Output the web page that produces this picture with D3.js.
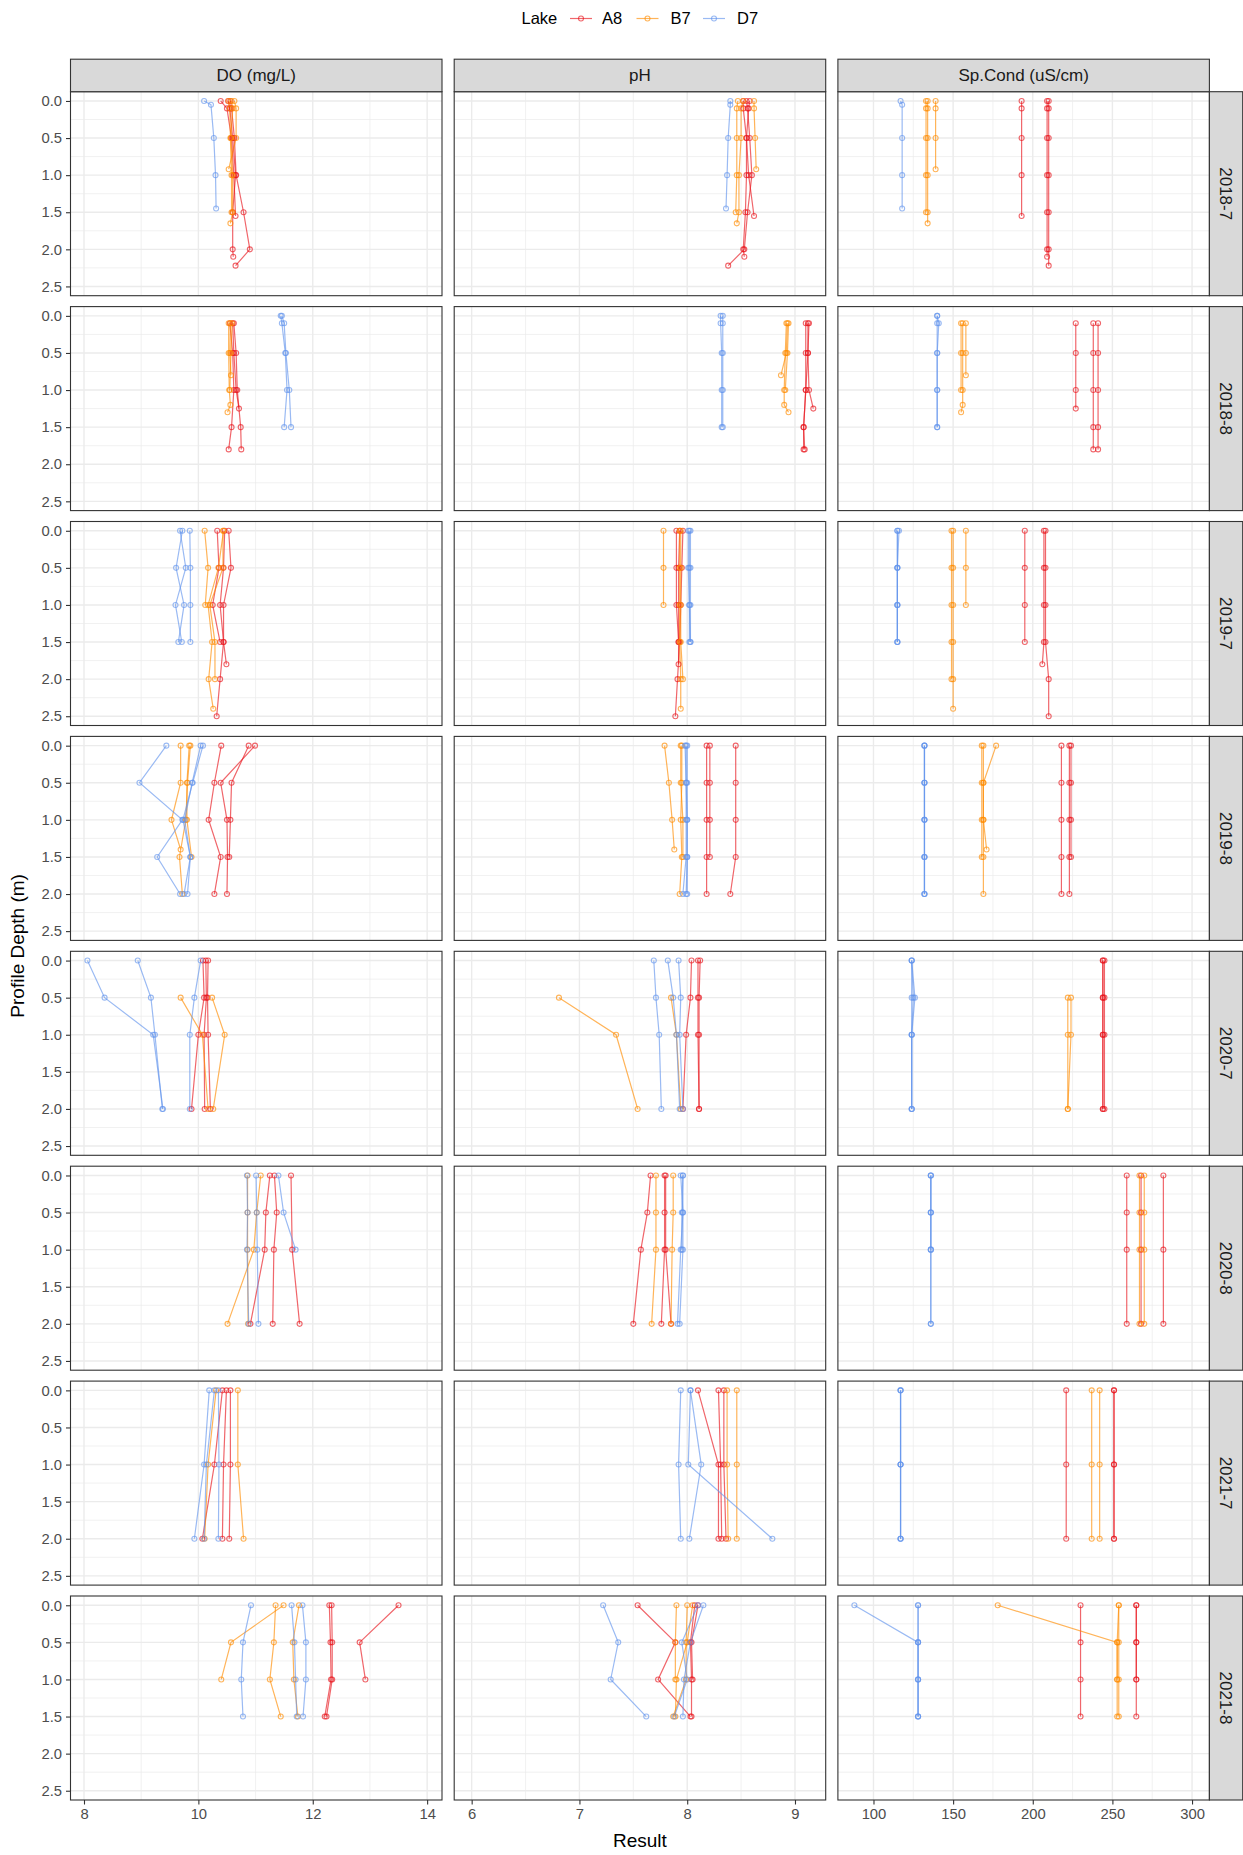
<!DOCTYPE html>
<html>
<head>
<meta charset="utf-8">
<script src="https://cdn.jsdelivr.net/npm/d3@7"></script>
<style>
  body { margin: 0; background: #fff; }
  text { font-family: "Liberation Sans", Arial, sans-serif; }
</style>
</head>
<body>
<div id="chart-container"></div>
<script>
// facet labels and legend
const months = ["2018-7", "2018-8", "2019-7", "2019-8", "2020-7", "2020-8", "2021-7", "2021-8"]
const lakes = ["A8", "B7", "D7"]
const lakeColors = ["#E8141C", "#FF8C00", "#6495ED"]
const paramKeys = ["DO", "pH", "cond"]
const paramLabels = ["DO (mg/L)", "pH", "Sp.Cond (uS/cm)"]

// axis ticks
const depthTicks = [0, 0.5, 1, 1.5, 2, 2.5]
const doTicks = [8, 10, 12, 14]
const phTicks = [6, 7, 8, 9]
const condTicks = [100, 150, 200, 250, 300]

// profiles (one entry per sampling site)
const m2018_7 = [
  { lake: "A8", depth: [0, 0.1, 0.5, 1, 1.55], DO: [10.39, 10.5, 10.58, 10.62, 10.65], pH: [8.52, 8.52, 8.55, 8.57, 8.62], cond: [193, 193, 193, 193, 193] },
  { lake: "A8", depth: [0, 0.1, 0.5, 1, 1.5, 2, 2.1], DO: [10.52, 10.55, 10.6, 10.65, 10.6, 10.6, 10.61], pH: [8.58, 8.57, 8.55, 8.55, 8.54, 8.52, 8.53], cond: [209, 209, 209, 209, 209, 209, 209] },
  { lake: "A8", depth: [0, 0.1, 0.5, 1, 1.5, 2, 2.22], DO: [10.56, 10.58, 10.63, 10.66, 10.79, 10.9, 10.65], pH: [8.55, 8.56, 8.58, 8.6, 8.56, 8.53, 8.38], cond: [210, 210, 210, 210, 210, 210, 210] },
  { lake: "B7", depth: [0, 0.1, 0.5, 1, 1.5], DO: [10.53, 10.55, 10.56, 10.58, 10.58], pH: [8.47, 8.46, 8.46, 8.46, 8.45], cond: [133, 133, 133, 133, 133] },
  { lake: "B7", depth: [0, 0.1, 0.5, 1, 1.5, 1.65], DO: [10.58, 10.6, 10.57, 10.6, 10.6, 10.56], pH: [8.52, 8.5, 8.5, 8.48, 8.48, 8.46], cond: [134, 134, 134, 134, 134, 134] },
  { lake: "B7", depth: [0, 0.1, 0.5, 0.92], DO: [10.63, 10.66, 10.66, 10.53], pH: [8.62, 8.62, 8.63, 8.64], cond: [139, 139, 139, 139] },
  { lake: "D7", depth: [0, 0.05, 0.5, 1, 1.45], DO: [10.1, 10.22, 10.27, 10.3, 10.31], pH: [8.4, 8.4, 8.38, 8.37, 8.36], cond: [117, 118, 118, 118, 118] }
]

const m2018_8 = [
  { lake: "A8", depth: [0.1, 0.5, 1, 1.25], DO: [10.6, 10.62, 10.66, 10.71], pH: [9.12, 9.12, 9.13, 9.17], cond: [227, 227, 227, 227] },
  { lake: "A8", depth: [0.1, 0.5, 1, 1.5, 1.8], DO: [10.55, 10.6, 10.62, 10.58, 10.53], pH: [9.1, 9.1, 9.1, 9.08, 9.08], cond: [238, 238, 238, 238, 238] },
  { lake: "A8", depth: [0.1, 0.5, 1, 1.5, 1.8], DO: [10.62, 10.66, 10.68, 10.74, 10.75], pH: [9.13, 9.12, 9.1, 9.08, 9.09], cond: [241, 241, 241, 241, 241] },
  { lake: "B7", depth: [0.1, 0.5, 1, 1.2, 1.3], DO: [10.53, 10.53, 10.54, 10.56, 10.51], pH: [8.92, 8.91, 8.9, 8.9, 8.94], cond: [156, 156, 156, 156, 155] },
  { lake: "B7", depth: [0.1, 0.5, 0.8], DO: [10.56, 10.55, 10.57], pH: [8.93, 8.92, 8.87], cond: [158, 158, 158] },
  { lake: "B7", depth: [0.1, 0.5, 1], DO: [10.59, 10.57, 10.55], pH: [8.94, 8.93, 8.91], cond: [155, 155, 155] },
  { lake: "D7", depth: [0, 0.1, 0.5, 1, 1.5], DO: [11.44, 11.46, 11.52, 11.55, 11.5], pH: [8.31, 8.31, 8.32, 8.32, 8.32], cond: [140, 140, 140, 140, 140] },
  { lake: "D7", depth: [0, 0.1, 0.5, 1, 1.5], DO: [11.46, 11.5, 11.53, 11.59, 11.62], pH: [8.33, 8.33, 8.33, 8.33, 8.33], cond: [140, 141, 140, 140, 140] }
]

const m2019_7 = [
  { lake: "A8", depth: [0, 0.5, 1, 1.5], DO: [10.33, 10.36, 10.25, 10.38], pH: [7.9, 7.9, 7.9, 7.92], cond: [195, 195, 195, 195] },
  { lake: "A8", depth: [0, 0.5, 1, 1.5, 1.8], DO: [10.46, 10.44, 10.38, 10.44, 10.49], pH: [7.93, 7.92, 7.92, 7.92, 7.92], cond: [207, 207, 207, 207, 206] },
  { lake: "A8", depth: [0, 0.5, 1, 1.5, 2, 2.5], DO: [10.53, 10.57, 10.44, 10.44, 10.38, 10.32], pH: [7.96, 7.95, 7.94, 7.93, 7.91, 7.89], cond: [208, 208, 208, 208, 210, 210] },
  { lake: "B7", depth: [0, 0.5, 1], DO: [10.11, 10.17, 10.12], pH: [7.78, 7.78, 7.78], cond: [158, 158, 158] },
  { lake: "B7", depth: [0, 0.5, 1, 1.5, 2, 2.4], DO: [10.44, 10.35, 10.17, 10.24, 10.18, 10.26], pH: [7.93, 7.93, 7.93, 7.93, 7.94, 7.94], cond: [150, 150, 150, 150, 150, 150] },
  { lake: "B7", depth: [0, 0.5, 1, 1.5, 2], DO: [10.43, 10.43, 10.2, 10.29, 10.29], pH: [7.94, 7.94, 7.94, 7.94, 7.96], cond: [149, 149, 149, 149, 149] },
  { lake: "D7", depth: [0, 0.5, 1, 1.5], DO: [9.68, 9.78, 9.6, 9.71], pH: [8.02, 8.02, 8.02, 8.02], cond: [115, 115, 115, 115] },
  { lake: "D7", depth: [0, 0.5, 1, 1.5], DO: [9.72, 9.61, 9.75, 9.65], pH: [8.01, 8.01, 8.02, 8.03], cond: [115, 115, 115, 115] },
  { lake: "D7", depth: [0, 0.5, 1, 1.5], DO: [9.85, 9.86, 9.86, 9.86], pH: [8.03, 8.03, 8.03, 8.03], cond: [116, 115, 115, 115] }
]

const m2019_8 = [
  { lake: "A8", depth: [0, 0.5, 1, 1.5, 2], DO: [10.4, 10.28, 10.18, 10.39, 10.28], pH: [8.45, 8.45, 8.45, 8.45, 8.4], cond: [218, 218, 218, 218, 218] },
  { lake: "A8", depth: [0, 0.5, 1, 1.5, 2], DO: [10.99, 10.39, 10.5, 10.51, 10.5], pH: [8.18, 8.18, 8.18, 8.18, 8.18], cond: [223, 223, 223, 223, 223] },
  { lake: "A8", depth: [0, 0.5, 1, 1.5], DO: [10.88, 10.58, 10.56, 10.54], pH: [8.21, 8.21, 8.21, 8.21], cond: [224, 224, 224, 224] },
  { lake: "B7", depth: [0, 0.5, 1, 1.4], DO: [9.69, 9.69, 9.53, 9.69], pH: [7.79, 7.83, 7.86, 7.88], cond: [177, 169, 169, 171] },
  { lake: "B7", depth: [0, 0.5, 1, 1.5, 2], DO: [9.86, 9.81, 9.78, 9.67, 9.72], pH: [7.95, 7.95, 7.94, 7.95, 7.93], cond: [169, 169, 169, 169, 169] },
  { lake: "B7", depth: [0, 0.5, 1, 1.5], DO: [9.84, 9.8, 9.8, 9.88], pH: [7.94, 7.94, 7.96, 7.96], cond: [168, 168, 168, 168] },
  { lake: "D7", depth: [0, 0.5, 1, 1.5, 2], DO: [9.44, 8.97, 9.72, 9.28, 9.68], pH: [7.98, 7.99, 7.99, 7.99, 7.96], cond: [132, 132, 132, 132, 132] },
  { lake: "D7", depth: [0, 0.5, 1, 1.5, 2], DO: [10.04, 9.89, 9.76, 9.86, 9.75], pH: [8, 8, 8, 8, 7.99], cond: [132, 132, 132, 132, 132] },
  { lake: "D7", depth: [0, 0.5, 1, 1.5, 2], DO: [10.08, 9.9, 9.73, 9.86, 9.81], pH: [7.99, 7.99, 8, 8, 8], cond: [132, 132, 132, 132, 132] }
]

const m2020_7 = [
  { lake: "A8", depth: [0, 0.5, 1, 2], DO: [10.08, 10.1, 10, 9.88], pH: [8.04, 8.03, 7.99, 7.96], cond: [244, 244, 244, 244] },
  { lake: "A8", depth: [0, 0.5, 1, 2], DO: [10.13, 10.14, 10.1, 10.11], pH: [8.1, 8.1, 8.1, 8.11], cond: [244, 244, 244, 244] },
  { lake: "A8", depth: [0, 0.5, 1, 2], DO: [10.17, 10.16, 10.17, 10.21], pH: [8.12, 8.11, 8.11, 8.11], cond: [245, 245, 245, 245] },
  { lake: "B7", depth: [0.5, 1, 2], DO: [9.69, 10.07, 10.17], pH: [6.81, 7.34, 7.54], cond: [222, 222, 222] },
  { lake: "B7", depth: [0.5, 1, 2], DO: [10.24, 10.46, 10.26], pH: [7.85, 7.9, 7.94], cond: [224, 224, 222] },
  { lake: "D7", depth: [0, 0.5, 1, 2], DO: [8.06, 8.36, 9.21, 9.38], pH: [7.69, 7.71, 7.74, 7.76], cond: [124, 125, 124, 124] },
  { lake: "D7", depth: [0, 0.5, 1, 2], DO: [8.94, 9.17, 9.24, 9.37], pH: [7.82, 7.87, 7.9, 7.93], cond: [124, 126, 124, 124] },
  { lake: "D7", depth: [0, 0.5, 1, 2], DO: [10.04, 9.93, 9.85, 9.85], pH: [7.92, 7.94, 7.93, 7.96], cond: [124, 124, 124, 124] }
]

const m2020_8 = [
  { lake: "A8", depth: [0, 0.5, 1, 2], DO: [11.25, 11.18, 11.16, 10.91], pH: [7.66, 7.63, 7.57, 7.5], cond: [259, 259, 259, 259] },
  { lake: "A8", depth: [0, 0.5, 1, 2], DO: [11.33, 11.37, 11.32, 11.3], pH: [7.79, 7.79, 7.79, 7.76], cond: [268, 268, 268, 268] },
  { lake: "A8", depth: [0, 1, 2], DO: [11.62, 11.64, 11.77], pH: [7.8, 7.8, 7.85], cond: [282, 282, 282] },
  { lake: "B7", depth: [0, 0.5, 1, 2], DO: [10.86, 10.86, 10.86, 10.87], pH: [7.87, 7.87, 7.86, 7.85], cond: [267, 267, 267, 267] },
  { lake: "B7", depth: [0, 0.5, 1, 2], DO: [11.09, 11.02, 10.97, 10.51], pH: [7.71, 7.71, 7.71, 7.67], cond: [270, 270, 270, 270] },
  { lake: "D7", depth: [0, 0.5, 1, 2], DO: [10.85, 10.86, 10.85, 10.88], pH: [7.94, 7.96, 7.94, 7.91], cond: [136, 136, 136, 136] },
  { lake: "D7", depth: [0, 0.5, 1, 2], DO: [11.01, 11.02, 11.03, 11.05], pH: [7.96, 7.96, 7.96, 7.93], cond: [136, 136, 136, 136] },
  { lake: "D7", depth: [0, 0.5, 1], DO: [11.4, 11.49, 11.7], pH: [7.96, 7.95, 7.95], cond: [136, 136, 136] }
]

const m2021_7 = [
  { lake: "A8", depth: [0, 1, 2], DO: [10.42, 10.28, 10.07], pH: [8.1, 8.29, 8.29], cond: [221, 221, 221] },
  { lake: "A8", depth: [0, 1, 2], DO: [10.49, 10.44, 10.42], pH: [8.29, 8.31, 8.32], cond: [251, 251, 251] },
  { lake: "A8", depth: [0, 1, 2], DO: [10.56, 10.56, 10.54], pH: [8.34, 8.34, 8.36], cond: [251, 251, 251] },
  { lake: "B7", depth: [0, 1, 2], DO: [10.31, 10.17, 10.11], pH: [8.37, 8.37, 8.38], cond: [237, 237, 237] },
  { lake: "B7", depth: [0, 1, 2], DO: [10.69, 10.69, 10.79], pH: [8.46, 8.46, 8.46], cond: [242, 242, 242] },
  { lake: "D7", depth: [0, 1, 2], DO: [10.19, 10.1, 9.93], pH: [7.94, 7.92, 7.94], cond: [117, 117, 117] },
  { lake: "D7", depth: [0, 1, 2], DO: [10.28, 10.14, 10.1], pH: [8.03, 8.13, 8.02], cond: [117, 117, 117] },
  { lake: "D7", depth: [0, 1, 2], DO: [10.35, 10.36, 10.35], pH: [8.03, 8.01, 8.79], cond: [117, 117, 117] }
]

const m2021_8 = [
  { lake: "A8", depth: [0, 0.5, 1, 1.5], DO: [12.29, 12.31, 12.32, 12.21], pH: [7.54, 7.89, 7.73, 8.03], cond: [230, 230, 230, 230] },
  { lake: "A8", depth: [0, 0.5, 1, 1.5], DO: [12.33, 12.34, 12.34, 12.24], pH: [8.07, 8.03, 8.04, 8.04], cond: [265, 265, 265, 265] },
  { lake: "A8", depth: [0, 0.5, 1], DO: [13.5, 12.82, 12.92], pH: [8.1, 8.04, 8.05], cond: [265, 265, 265] },
  { lake: "B7", depth: [0, 0.5, 1], DO: [11.49, 10.57, 10.4], pH: [7.9, 7.89, 7.89], cond: [178, 253, 253] },
  { lake: "B7", depth: [0, 0.5, 1, 1.5], DO: [11.35, 11.32, 11.25, 11.44], pH: [8, 7.99, 7.99, 7.87], cond: [254, 254, 254, 254] },
  { lake: "B7", depth: [0, 0.5, 1, 1.5], DO: [11.76, 11.65, 11.67, 11.74], pH: [8.05, 8, 7.9, 7.89], cond: [254, 253, 253, 253] },
  { lake: "D7", depth: [0, 0.5, 1, 1.5], DO: [10.92, 10.78, 10.75, 10.78], pH: [7.22, 7.36, 7.29, 7.62], cond: [88, 128, 128, 128] },
  { lake: "D7", depth: [0, 0.5, 1, 1.5], DO: [11.63, 11.68, 11.7, 11.72], pH: [8.15, 8.03, 7.97, 7.96], cond: [128, 128, 128, 128] },
  { lake: "D7", depth: [0, 0.5, 1, 1.5], DO: [11.82, 11.88, 11.88, 11.83], pH: [8.1, 7.95, 8, 7.88], cond: [128, 128, 128, 128] }
]

const monthProfiles = [m2018_7, m2018_8, m2019_7, m2019_8, m2020_7, m2020_8, m2021_7, m2021_8]

// layout
const W = 1243, H = 1855
const panelLeft = 70.5, panelTop = 91.7
const panelW = 371.5, panelH = 204
const colStep = 383.7, rowStep = 214.9
const stripH = 32.5, stripW = 33.3

const svg = d3.select("#chart-container")
  .append("svg")
  .attr("width", W)
  .attr("height", H)

svg.append("rect").attr("width", W).attr("height", H).attr("fill", "#fff")

// x scales per column (free_x), y shared
const xScales = [
  d3.scaleLinear().domain([7.764, 14.26]).range([0, panelW]),
  d3.scaleLinear().domain([5.838, 9.285]).range([0, panelW]),
  d3.scaleLinear().domain([77.66, 310.9]).range([0, panelW])
]
const xTicks = [doTicks, phTicks, condTicks]
const y = d3.scaleLinear().domain([-0.125, 2.625]).range([0, panelH])

// minor breaks = midpoints between major breaks
function minors(ticks, dom) {
  const step = ticks[1] - ticks[0]
  const out = []
  for (let v = ticks[0] - step / 2; v <= ticks[ticks.length - 1] + step / 2; v += step) {
    if (v > dom[0] && v < dom[1]) out.push(v)
  }
  return out
}

const gridCol = "#EBEBEB"
const borderCol = "#333333"
const markOpacity = 0.65

months.forEach((month, r) => {
  const py = panelTop + r * rowStep
  const profiles = monthProfiles[r]

  paramKeys.forEach((key, c) => {
    const px = panelLeft + c * colStep
    const x = xScales[c]
    const g = svg.append("g").attr("transform", `translate(${px},${py})`)

    g.append("rect").attr("width", panelW).attr("height", panelH).attr("fill", "#fff")

    // grid
    minors(xTicks[c], x.domain()).forEach(v => {
      g.append("line").attr("x1", x(v)).attr("x2", x(v)).attr("y1", 0).attr("y2", panelH)
        .attr("stroke", gridCol).attr("stroke-width", 0.7)
    })
    minors(depthTicks, y.domain()).forEach(v => {
      g.append("line").attr("y1", y(v)).attr("y2", y(v)).attr("x1", 0).attr("x2", panelW)
        .attr("stroke", gridCol).attr("stroke-width", 0.7)
    })
    xTicks[c].forEach(v => {
      g.append("line").attr("x1", x(v)).attr("x2", x(v)).attr("y1", 0).attr("y2", panelH)
        .attr("stroke", gridCol).attr("stroke-width", 1.4)
    })
    depthTicks.forEach(v => {
      g.append("line").attr("y1", y(v)).attr("y2", y(v)).attr("x1", 0).attr("x2", panelW)
        .attr("stroke", gridCol).attr("stroke-width", 1.4)
    })

    const line = d3.line().x(d => x(d.v)).y(d => y(d.depth))

    // lines first, then points (like ggplot layers)
    profiles.forEach(p => {
      const pts = p.depth.map((dep, i) => ({ depth: dep, v: p[key][i] }))
      g.append("path")
        .datum(pts)
        .attr("d", line)
        .attr("fill", "none")
        .attr("stroke", lakeColors[lakes.indexOf(p.lake)])
        .attr("stroke-opacity", markOpacity)
        .attr("stroke-width", 1.2)
    })
    profiles.forEach(p => {
      const pts = p.depth.map((dep, i) => ({ depth: dep, v: p[key][i] }))
      g.selectAll(null)
        .data(pts)
        .enter().append("circle")
        .attr("cx", d => x(d.v))
        .attr("cy", d => y(d.depth))
        .attr("r", 2.5)
        .attr("fill", "none")
        .attr("stroke", lakeColors[lakes.indexOf(p.lake)])
        .attr("stroke-opacity", markOpacity)
        .attr("stroke-width", 1.1)
    })

    g.append("rect").attr("width", panelW).attr("height", panelH)
      .attr("fill", "none").attr("stroke", borderCol).attr("stroke-width", 1.1)

    // y axis on first column
    if (c === 0) {
      const ax = g.append("g")
        .call(d3.axisLeft(y).tickValues(depthTicks).tickFormat(d3.format(".1f"))
          .tickSize(4.5).tickPadding(4))
      ax.select(".domain").remove()
      ax.selectAll("line").attr("stroke", borderCol).attr("stroke-width", 1.1)
      ax.selectAll("text").attr("fill", "#4D4D4D").style("font-size", "14.8px")
        .style("font-family", "'Liberation Sans', Arial, sans-serif")
    }
    // x axis on last row
    if (r === months.length - 1) {
      const ax = g.append("g")
        .attr("transform", `translate(0,${panelH})`)
        .call(d3.axisBottom(x).tickValues(xTicks[c]).tickFormat(d3.format("d"))
          .tickSize(4.5).tickPadding(4))
      ax.select(".domain").remove()
      ax.selectAll("line").attr("stroke", borderCol).attr("stroke-width", 1.1)
      ax.selectAll("text").attr("fill", "#4D4D4D").style("font-size", "14.8px")
        .style("font-family", "'Liberation Sans', Arial, sans-serif")
    }

    // top strips on first row
    if (r === 0) {
      svg.append("rect")
        .attr("x", px).attr("y", py - stripH)
        .attr("width", panelW).attr("height", stripH)
        .attr("fill", "#D9D9D9").attr("stroke", borderCol).attr("stroke-width", 1.1)
      svg.append("text")
        .attr("x", px + panelW / 2).attr("y", py - stripH / 2)
        .attr("dy", "0.35em")
        .attr("text-anchor", "middle")
        .attr("fill", "#1A1A1A")
        .style("font-size", "17px")
        .text(paramLabels[c])
    }
  })

  // right strip
  const sx = panelLeft + 2 * colStep + panelW
  svg.append("rect")
    .attr("x", sx).attr("y", py)
    .attr("width", stripW).attr("height", panelH)
    .attr("fill", "#D9D9D9").attr("stroke", borderCol).attr("stroke-width", 1.1)
  svg.append("text")
    .attr("transform", `translate(${sx + stripW / 2},${py + panelH / 2}) rotate(90)`)
    .attr("dy", "0.35em")
    .attr("text-anchor", "middle")
    .attr("fill", "#1A1A1A")
    .style("font-size", "17px")
    .text(month)
})

// axis titles
const plotMidX = panelLeft + (2 * colStep + panelW) / 2
const plotMidY = panelTop + (7 * rowStep + panelH) / 2

svg.append("text")
  .attr("x", plotMidX)
  .attr("y", 1847)
  .attr("text-anchor", "middle")
  .attr("fill", "#000")
  .style("font-size", "19px")
  .text("Result")

svg.append("text")
  .attr("transform", `translate(24,${plotMidY}) rotate(-90)`)
  .attr("text-anchor", "middle")
  .attr("fill", "#000")
  .style("font-size", "19px")
  .text("Profile Depth (m)")

// legend
const legend = svg.append("g").attr("transform", "translate(0,18.5)")
legend.append("text")
  .attr("x", 521.5).attr("dy", "0.35em")
  .attr("fill", "#000")
  .style("font-size", "16.5px")
  .text("Lake")

const keyX = [570, 636.5, 703]
const labelX = [602, 670.5, 737]
lakes.forEach((lake, i) => {
  legend.append("line")
    .attr("x1", keyX[i]).attr("x2", keyX[i] + 22)
    .attr("stroke", lakeColors[i]).attr("stroke-opacity", markOpacity).attr("stroke-width", 1.2)
  legend.append("circle")
    .attr("cx", keyX[i] + 11).attr("r", 2.5)
    .attr("fill", "none")
    .attr("stroke", lakeColors[i]).attr("stroke-opacity", markOpacity).attr("stroke-width", 1.1)
  legend.append("text")
    .attr("x", labelX[i]).attr("dy", "0.35em")
    .attr("fill", "#000")
    .style("font-size", "16.5px")
    .text(lake)
})
</script>
</body>
</html>
